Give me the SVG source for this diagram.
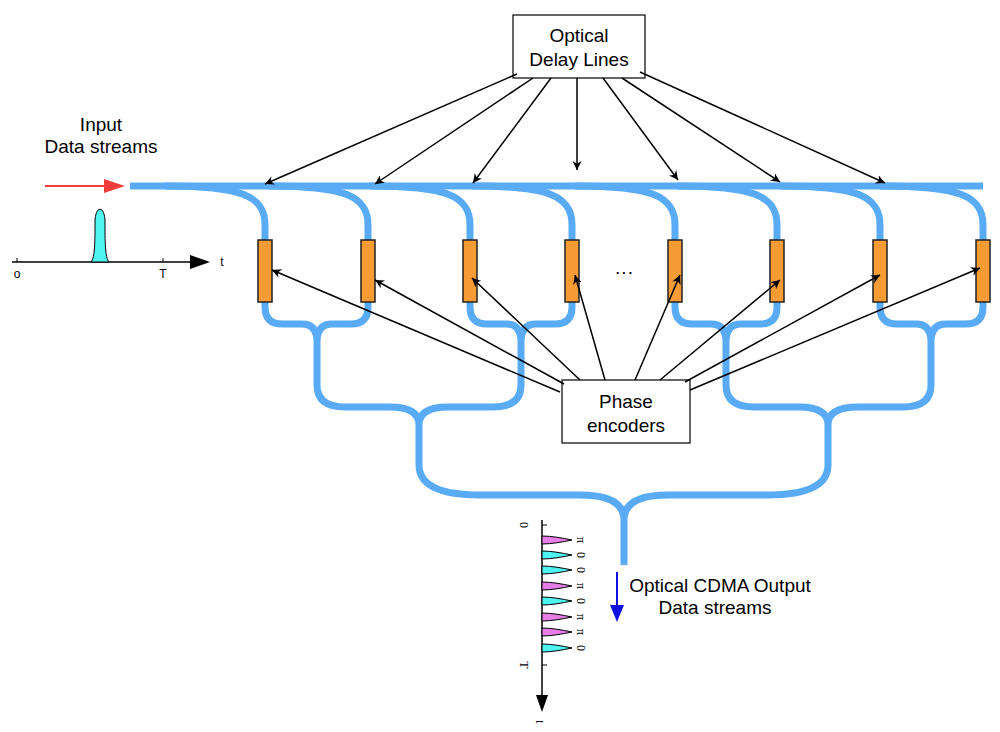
<svg xmlns="http://www.w3.org/2000/svg" width="1000" height="732" viewBox="0 0 1000 732">
<style>
.f{fill:none;stroke:#5aabf5;stroke-width:7;stroke-linecap:butt}
.a{stroke:#000;stroke-width:1.5;fill:none;marker-end:url(#ah)}
.m{fill:#f79b35;stroke:#222;stroke-width:1.5}
.t{font-family:"Liberation Sans",Arial,sans-serif;font-size:19px;fill:#000;text-anchor:middle}
.s{font-family:"Liberation Sans",Arial,sans-serif;font-size:12px;fill:#000;text-anchor:middle}
.box{fill:#fff;stroke:#000;stroke-width:1.2}
.pm{fill:#e77de6;stroke:#000;stroke-width:1}
.pc{fill:#4ff3f0;stroke:#000;stroke-width:1}
</style>
<defs>
<marker id="ah" viewBox="0 0 10 10" refX="10" refY="5" markerWidth="9" markerHeight="9" orient="auto" markerUnits="userSpaceOnUse"><path d="M0,0 L10,5 L0,10 L3,5 z" fill="#000"/></marker>
<marker id="ab" viewBox="0 0 10 10" refX="10" refY="5" markerWidth="14" markerHeight="14" orient="auto" markerUnits="userSpaceOnUse"><path d="M0,0 L10,5 L0,10 L3,5 z" fill="#000"/></marker>
</defs>
<g id="fibers">
<path class="f" d="M130,186 L983,186"/>
<path class="f" d="M165,186 C240,186 265,195 265,225 L265,240"/>
<path class="f" d="M268,186 C343,186 368,195 368,225 L368,240"/>
<path class="f" d="M370,186 C445,186 470,195 470,225 L470,240"/>
<path class="f" d="M472,186 C547,186 572,195 572,225 L572,240"/>
<path class="f" d="M575,186 C650,186 675,195 675,225 L675,240"/>
<path class="f" d="M677,186 C752,186 777,195 777,225 L777,240"/>
<path class="f" d="M780,186 C855,186 880,195 880,225 L880,240"/>
<path class="f" d="M880,186 C958,186 983,195 983,225 L983,240"/>
<g id="tree">
<path class="f" d="M265,302 L265,307 Q265,324 282,324 L302,324 Q317,324 317,342 L317,385 M368,302 L368,307 Q368,324 351,324 L332,324 Q317,324 317,342"/>
<path class="f" d="M470,302 L470,307 Q470,324 487,324 L506,324 Q521,324 521,342 L521,385 M572,302 L572,307 Q572,324 555,324 L536,324 Q521,324 521,342"/>
<path class="f" d="M675,302 L675,307 Q675,324 692,324 L711,324 Q726,324 726,342 L726,385 M777,302 L777,307 Q777,324 760,324 L741,324 Q726,324 726,342"/>
<path class="f" d="M880,302 L880,307 Q880,324 897,324 L916,324 Q931,324 931,342 L931,385 M983,302 L983,307 Q983,324 966,324 L946,324 Q931,324 931,342"/>
<path class="f" d="M317,385 Q317,407 345,407 L390,407 Q419,407 419,425 L419,465 M521,385 Q521,407 493,407 L448,407 Q419,407 419,425"/>
<path class="f" d="M726,385 Q726,407 754,407 L799,407 Q828,407 828,425 L828,465 M931,385 Q931,407 903,407 L858,407 Q828,407 828,425"/>
<path class="f" d="M419,465 Q419,495 480,495 L580,495 Q624,495 624,520 L624,565 M828,465 Q828,495 767,495 L668,495 Q624,495 624,520"/>
</g>
</g>
<g id="modulators">
<rect class="m" x="258" y="240" width="14" height="62"/>
<rect class="m" x="361" y="240" width="14" height="62"/>
<rect class="m" x="463" y="240" width="14" height="62"/>
<rect class="m" x="565" y="240" width="14" height="62"/>
<rect class="m" x="668" y="240" width="14" height="62"/>
<rect class="m" x="770" y="240" width="14" height="62"/>
<rect class="m" x="873" y="240" width="14" height="62"/>
<rect class="m" x="976" y="240" width="14" height="62"/>
<text class="t" x="624" y="278" font-size="22">···</text>
</g>
<g id="delay-lines">
<rect class="box" x="513" y="15" width="132" height="63"/>
<text class="t" x="579" y="42">Optical</text>
<text class="t" x="579" y="66">Delay Lines</text>
</g>
<g id="phase-encoders">
<rect class="box" x="562" y="380" width="128" height="63"/>
<text class="t" x="626" y="408">Phase</text>
<text class="t" x="626" y="432">encoders</text>
</g>
<g id="connectors">
<path class="a" d="M517,74 L265,184"/>
<path class="a" d="M533,78 L375,184"/>
<path class="a" d="M551,78 L473,183"/>
<path class="a" d="M577,78 L577,170"/>
<path class="a" d="M603,78 L678,180"/>
<path class="a" d="M622,78 L780,182"/>
<path class="a" d="M640,72 L885,183"/>
<path class="a" d="M560,392 L272,270"/>
<path class="a" d="M564,384 L375,280"/>
<path class="a" d="M580,380 L472,278"/>
<path class="a" d="M605,380 L575,275"/>
<path class="a" d="M635,380 L680,275"/>
<path class="a" d="M660,380 L780,280"/>
<path class="a" d="M685,382 L880,275"/>
<path class="a" d="M690,390 L980,268"/>
<path d="M45,186 L108,186" stroke="#f23d3d" stroke-width="1.8"/>
<path d="M104,179 L125,186 L104,193 z" fill="#f23d3d"/>
<path d="M617,572 L617,610" stroke="#1010e0" stroke-width="2"/>
<path d="M610,605 L617,622 L624,605 z" fill="#1010e0"/>
</g>
<g id="labels">
<text class="t" x="101" y="131">Input</text>
<text class="t" x="101" y="153">Data streams</text>
<text class="t" x="720" y="592">Optical CDMA Output</text>
<text class="t" x="715" y="614">Data streams</text>
</g>
<g id="input-pulse">
<path d="M12,262 L195,262" stroke="#000" stroke-width="1.5"/>
<path d="M190,255 L210,262 L190,269 z" fill="#000"/>
<path d="M17,262 V258 M163,262 V258" stroke="#000" stroke-width="1"/>
<path class="pc" d="M91,262 C95,258 95,240 95,222 C95,205 105,205 105,222 C105,240 105,258 109,262 z"/>
<text class="s" x="17" y="278">o</text>
<text class="s" x="163" y="278">T</text>
<text class="s" x="222" y="266">t</text>
</g>
<g id="output-pulses">
<path d="M542,520 L542,700" stroke="#000" stroke-width="1.5"/>
<path d="M536,695 L542,712 L548,695 z" fill="#000"/>
<path d="M542,525 H547 M542,665 H547" stroke="#000" stroke-width="1"/>
<g transform="translate(542,0)">
<path class="pm" d="M0,536 C10,536 20,538 30,540 C20,542 10,544 0,544 z"/>
<path class="pc" d="M0,551 C10,551 20,553 30,555 C20,557 10,559 0,559 z"/>
<path class="pc" d="M0,566 C10,566 20,568 30,570 C20,572 10,574 0,574 z"/>
<path class="pm" d="M0,582 C10,582 20,584 30,586 C20,588 10,590 0,590 z"/>
<path class="pc" d="M0,597 C10,597 20,599 30,601 C20,603 10,605 0,605 z"/>
<path class="pm" d="M0,613 C10,613 20,615 30,617 C20,619 10,621 0,621 z"/>
<path class="pm" d="M0,628 C10,628 20,630 30,632 C20,634 10,636 0,636 z"/>
<path class="pc" d="M0,644 C10,644 20,646 30,648 C20,650 10,652 0,652 z"/>
</g>
<g font-family="Liberation Serif,serif" font-size="12" text-anchor="middle">
<text transform="translate(577,540) rotate(90)">π</text>
<text transform="translate(577,555) rotate(90)">0</text>
<text transform="translate(577,570) rotate(90)">0</text>
<text transform="translate(577,586) rotate(90)">π</text>
<text transform="translate(577,601) rotate(90)">0</text>
<text transform="translate(577,617) rotate(90)">π</text>
<text transform="translate(577,632) rotate(90)">π</text>
<text transform="translate(577,648) rotate(90)">0</text>
<text transform="translate(520,525) rotate(90)">0</text>
<text transform="translate(520,665) rotate(90)">T</text>
<text transform="translate(536,722) rotate(90)">t</text>
</g>
</g>
</svg>
